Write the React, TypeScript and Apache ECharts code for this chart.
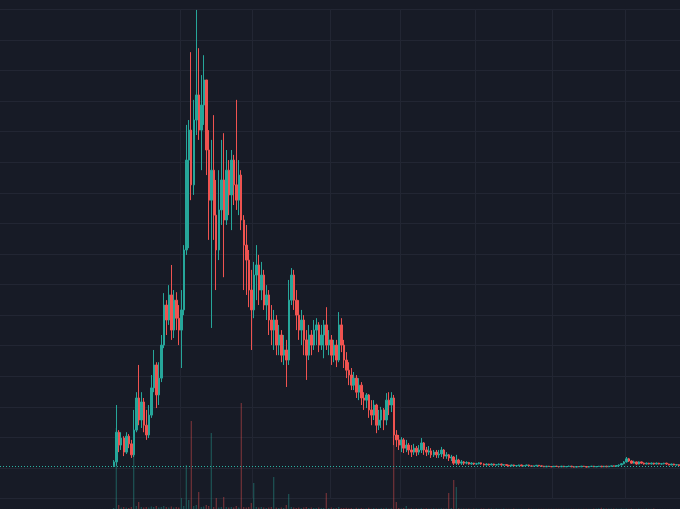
import React, { useEffect, useRef } from "react";
import * as echarts from "echarts";

// Empty categories before the first traded candle
const LEAD = 45;

// Candles: [open, close, low, high]
const OHLC: number[][] = [
  [1.07, 1.2, 1.03, 1.26], [1.2, 2.17, 1.07, 3.06], [2.17, 1.75, 1.52, 2.24], [1.75, 1.98, 1.59, 2.17],
  [1.98, 1.52, 1.39, 2.04], [1.52, 2.04, 1.46, 2.17], [2.04, 1.79, 1.65, 2.11], [1.79, 1.43, 1.33, 1.92],
  [1.43, 2.24, 1.36, 2.9], [2.24, 3.29, 2.17, 3.48], [3.29, 2.57, 2.4, 4.37], [2.57, 3.16, 2.31, 3.48],
  [3.16, 2.4, 2.17, 3.29], [2.4, 2.08, 1.92, 2.9], [2.08, 2.73, 1.98, 3.06], [2.73, 3.62, 2.64, 4.04],
  [3.62, 4.37, 3.48, 4.86], [4.37, 3.39, 2.96, 4.46], [3.39, 3.94, 3.06, 4.46], [3.94, 5.02, 3.81, 5.35],
  [5.02, 6.33, 4.92, 6.72], [6.33, 5.84, 5.35, 6.49], [5.84, 6.66, 5.68, 6.98], [6.66, 5.51, 5.19, 7.64],
  [5.51, 6.49, 5.25, 6.82], [6.49, 5.9, 5.51, 6.75], [5.9, 5.51, 5.02, 6.33], [5.51, 6.17, 4.27, 6.82],
  [6.17, 8.13, 6.0, 8.29], [8.13, 11.07, 7.97, 12.22], [11.07, 12.05, 8.19, 12.38], [12.05, 10.26, 9.76, 14.6],
  [10.26, 12.38, 9.93, 13.04], [12.38, 13.2, 11.89, 15.98], [13.2, 12.05, 11.73, 14.73], [12.05, 12.87, 10.74, 13.85],
  [12.87, 13.69, 12.22, 14.5], [13.69, 11.4, 10.58, 13.69], [11.4, 9.76, 8.46, 12.05], [9.76, 10.74, 5.58, 11.73],
  [10.74, 9.27, 8.46, 12.54], [9.27, 8.13, 6.82, 10.42], [8.13, 9.44, 7.8, 10.74], [9.44, 10.42, 8.95, 11.73],
  [10.42, 9.11, 7.24, 11.95], [9.11, 10.74, 8.95, 11.4], [10.74, 9.93, 9.27, 11.07], [9.93, 11.07, 8.78, 11.4],
  [11.07, 10.26, 9.6, 11.24], [10.26, 9.76, 9.44, 13.04], [9.76, 10.58, 9.27, 11.07], [10.58, 9.11, 8.78, 10.74],
  [9.11, 8.29, 6.82, 9.27], [8.29, 7.8, 6.66, 8.95], [7.8, 6.82, 6.26, 8.13], [6.82, 6.17, 4.86, 7.48],
  [6.17, 7.31, 5.9, 7.74], [7.31, 7.64, 6.49, 8.29], [7.64, 6.82, 6.33, 7.97], [6.82, 7.31, 6.49, 7.74],
  [7.31, 6.33, 6.17, 7.48], [6.33, 6.66, 5.84, 6.98], [6.66, 5.84, 5.35, 6.82], [5.84, 5.51, 5.02, 6.33],
  [5.51, 5.84, 4.86, 6.17], [5.84, 5.02, 4.69, 6.0], [5.02, 5.35, 4.69, 5.68], [5.35, 4.69, 4.46, 5.51],
  [4.69, 4.86, 4.37, 5.35], [4.86, 4.53, 3.65, 5.19], [4.53, 6.49, 4.37, 7.15], [6.49, 7.31, 6.33, 7.54],
  [7.31, 6.49, 6.17, 7.48], [6.49, 6.0, 5.51, 6.82], [6.0, 5.51, 5.19, 6.49], [5.51, 5.84, 5.02, 6.17],
  [5.84, 5.19, 4.69, 6.0], [5.19, 4.69, 3.88, 5.51], [4.69, 5.35, 4.53, 5.68], [5.35, 5.02, 4.69, 5.51],
  [5.02, 5.51, 4.86, 5.84], [5.51, 5.68, 5.02, 5.9], [5.68, 5.02, 4.79, 5.77], [5.02, 5.35, 4.86, 5.68],
  [5.35, 5.68, 4.59, 5.84], [5.68, 5.02, 4.86, 6.26], [5.02, 5.19, 4.69, 5.51], [5.19, 4.69, 4.37, 5.35],
  [4.69, 5.02, 4.46, 5.19], [5.02, 4.53, 4.3, 5.19], [4.53, 5.68, 4.46, 6.1], [5.68, 5.02, 4.79, 5.9],
  [5.02, 4.53, 4.27, 5.19], [4.53, 4.2, 3.94, 4.79], [4.2, 4.04, 3.71, 4.46], [4.04, 3.71, 3.55, 4.27],
  [3.71, 3.94, 3.55, 4.14], [3.94, 3.48, 3.29, 4.04], [3.48, 3.71, 3.22, 3.94], [3.71, 3.29, 3.06, 3.81],
  [3.29, 3.22, 2.9, 3.48], [3.22, 3.39, 2.96, 3.45], [3.39, 2.9, 2.64, 3.42], [2.9, 2.73, 2.4, 3.22],
  [2.73, 3.06, 2.57, 3.22], [3.06, 2.4, 2.14, 3.1], [2.4, 2.57, 2.24, 2.9], [2.57, 2.9, 2.31, 3.0],
  [2.9, 2.57, 2.24, 2.96], [2.57, 3.22, 2.4, 3.45], [3.22, 3.06, 2.73, 3.48], [3.06, 3.29, 2.83, 3.48],
  [3.29, 2.08, 1.75, 3.39], [2.08, 1.92, 1.69, 2.24], [1.92, 1.75, 1.59, 2.08], [1.75, 1.92, 1.52, 2.01],
  [1.92, 1.65, 1.49, 1.98], [1.65, 1.75, 1.52, 1.92], [1.75, 1.59, 1.43, 1.82], [1.59, 1.52, 1.36, 1.75],
  [1.52, 1.65, 1.43, 1.79], [1.65, 1.52, 1.39, 1.72], [1.52, 1.59, 1.43, 1.75], [1.59, 1.82, 1.49, 1.98],
  [1.82, 1.59, 1.43, 1.85], [1.59, 1.52, 1.39, 1.69], [1.52, 1.56, 1.43, 1.72], [1.56, 1.43, 1.33, 1.65],
  [1.43, 1.52, 1.36, 1.59], [1.52, 1.43, 1.33, 1.59], [1.43, 1.46, 1.33, 1.59], [1.46, 1.59, 1.36, 1.69],
  [1.59, 1.39, 1.3, 1.62], [1.39, 1.43, 1.3, 1.52], [1.43, 1.33, 1.23, 1.46], [1.33, 1.36, 1.23, 1.43],
  [1.36, 1.16, 1.1, 1.39], [1.16, 1.26, 1.1, 1.43], [1.26, 1.16, 1.1, 1.3], [1.16, 1.2, 1.1, 1.26],
  [1.2, 1.16, 1.1, 1.23], [1.16, 1.18, 1.12, 1.22], [1.18, 1.13, 1.11, 1.2], [1.13, 1.16, 1.11, 1.19],
  [1.16, 1.13, 1.1, 1.17], [1.13, 1.14, 1.1, 1.17], [1.14, 1.17, 1.12, 1.19], [1.17, 1.13, 1.11, 1.18],
  [1.13, 1.1, 1.08, 1.15], [1.1, 1.13, 1.09, 1.15], [1.13, 1.1, 1.08, 1.14], [1.1, 1.13, 1.09, 1.15],
  [1.13, 1.1, 1.08, 1.14], [1.1, 1.11, 1.08, 1.13], [1.11, 1.13, 1.09, 1.15], [1.13, 1.1, 1.08, 1.14],
  [1.1, 1.11, 1.08, 1.12], [1.11, 1.09, 1.07, 1.12], [1.09, 1.07, 1.05, 1.1], [1.07, 1.1, 1.06, 1.11],
  [1.1, 1.07, 1.05, 1.11], [1.07, 1.08, 1.05, 1.09], [1.08, 1.1, 1.06, 1.11], [1.1, 1.07, 1.06, 1.11],
  [1.07, 1.08, 1.05, 1.09], [1.08, 1.1, 1.07, 1.11], [1.1, 1.07, 1.06, 1.11], [1.07, 1.06, 1.05, 1.08],
  [1.06, 1.07, 1.05, 1.08], [1.07, 1.09, 1.06, 1.1], [1.09, 1.07, 1.05, 1.1], [1.07, 1.06, 1.04, 1.08],
  [1.06, 1.04, 1.03, 1.07], [1.04, 1.06, 1.03, 1.07], [1.06, 1.05, 1.04, 1.07], [1.05, 1.04, 1.03, 1.06],
  [1.04, 1.06, 1.03, 1.07], [1.06, 1.05, 1.04, 1.07], [1.05, 1.04, 1.02, 1.06], [1.04, 1.06, 1.03, 1.07],
  [1.06, 1.04, 1.03, 1.07], [1.04, 1.05, 1.03, 1.06], [1.05, 1.06, 1.04, 1.08], [1.06, 1.04, 1.03, 1.07],
  [1.04, 1.03, 1.02, 1.05], [1.03, 1.05, 1.02, 1.06], [1.05, 1.04, 1.03, 1.06], [1.04, 1.06, 1.03, 1.07],
  [1.06, 1.05, 1.04, 1.07], [1.05, 1.03, 1.02, 1.06], [1.03, 1.05, 1.02, 1.06], [1.05, 1.06, 1.04, 1.07],
  [1.06, 1.04, 1.03, 1.07], [1.04, 1.05, 1.03, 1.06], [1.05, 1.06, 1.04, 1.07], [1.06, 1.04, 1.03, 1.07],
  [1.04, 1.06, 1.03, 1.07], [1.06, 1.04, 1.03, 1.07], [1.04, 1.06, 1.03, 1.07], [1.06, 1.07, 1.05, 1.08],
  [1.07, 1.06, 1.05, 1.08], [1.06, 1.08, 1.05, 1.09], [1.08, 1.1, 1.07, 1.12], [1.1, 1.14, 1.09, 1.16],
  [1.14, 1.2, 1.12, 1.23], [1.2, 1.3, 1.18, 1.36], [1.3, 1.23, 1.2, 1.33], [1.23, 1.16, 1.14, 1.25],
  [1.16, 1.2, 1.15, 1.24], [1.2, 1.13, 1.11, 1.21], [1.13, 1.2, 1.12, 1.22], [1.2, 1.16, 1.14, 1.21],
  [1.16, 1.13, 1.11, 1.18], [1.13, 1.16, 1.12, 1.18], [1.16, 1.13, 1.12, 1.17], [1.13, 1.16, 1.12, 1.18],
  [1.16, 1.13, 1.11, 1.17], [1.13, 1.16, 1.12, 1.18], [1.16, 1.13, 1.12, 1.17], [1.13, 1.14, 1.11, 1.16],
  [1.14, 1.16, 1.12, 1.17], [1.16, 1.13, 1.11, 1.17], [1.13, 1.1, 1.09, 1.14], [1.1, 1.13, 1.09, 1.14],
  [1.13, 1.1, 1.09, 1.14], [1.1, 1.11, 1.08, 1.12], [1.11, 1.08, 1.06, 1.12],
];

// Volume per candle
const VOLUME: number[] = [
  10, 810, 40, 15, 20, 15, 10, 20, 540, 30, 70, 20, 15, 20, 15, 25, 20, 30, 15, 20,
  30, 20, 15, 25, 15, 20, 15, 110, 30, 440, 90, 880, 30, 40, 170, 20, 25, 40, 30, 760,
  20, 110, 15, 20, 120, 20, 15, 20, 15, 30, 15, 1060, 20, 15, 20, 60, 260, 20, 15, 20,
  15, 10, 15, 20, 320, 15, 10, 15, 10, 40, 150, 20, 15, 10, 15, 10, 15, 20, 10, 15,
  10, 10, 15, 10, 10, 160, 10, 15, 10, 10, 20, 10, 10, 12, 8, 10, 6, 12, 8, 10,
  6, 8, 12, 6, 10, 8, 6, 10, 8, 12, 6, 8, 790, 70, 10, 8, 10, 30, 6, 8,
  5, 8, 6, 10, 5, 8, 6, 5, 8, 6, 5, 8, 6, 5, 160, 10, 290, 220, 8, 6,
  5, 4, 6, 3, 5, 4, 3, 5, 4, 3, 4, 5, 3, 4, 3, 2, 4, 3, 2, 3,
  4, 2, 3, 2, 3, 2, 4, 3, 2, 3, 2, 3, 2, 2, 3, 2, 3, 2, 2, 3,
  2, 3, 2, 2, 3, 2, 3, 2, 2, 3, 2, 3, 4, 5, 8, 12, 8, 6, 5, 4,
  5, 4, 3, 4, 3, 4, 3, 4, 3, 3, 4, 3, 3, 4, 3, 3, 4,
];

const LAST_PRICE = 1.05;
// Category indices where the time-scale grid lines fall
const TIME_LINES = [72, 101, 132, 160, 190, 221, 250];
const CATEGORIES: string[] = Array.from({ length: LEAD + OHLC.length }, (_, i) => `D${i + 1}`);

const UP = "#26a69a";
const DOWN = "#ef5350";
const BG = "#171b26";
const GRID = "#222633";

export default function App() {
  const ref = useRef<HTMLDivElement>(null);
  useEffect(() => {
    if (!ref.current) return;
    const chart = echarts.init(ref.current, null, { renderer: "svg" });
    const pad = Array.from({ length: LEAD }, () => ["-", "-", "-", "-"]);
    const candles = [...pad, ...OHLC.map((d) => [d[0], d[1], Math.min(d[2], d[0], d[1]), Math.max(d[3], d[0], d[1])])];
    const vols = [
      ...Array.from({ length: LEAD }, () => "-"),
      ...VOLUME.map((v, i) => ({
        value: v,
        itemStyle: { color: OHLC[i][1] >= OHLC[i][0] ? "rgba(38,166,154,0.5)" : "rgba(239,83,80,0.5)" },
      })),
    ];
    const lineSet = new Set(TIME_LINES);
    chart.setOption({
      animation: false,
      backgroundColor: BG,
      grid: [
        { left: 0, right: 0, top: 9.33, bottom: 10.4 },
        { left: 0, right: 0, bottom: 0, height: 130 },
      ],
      xAxis: [
        {
          type: "category",
          data: CATEGORIES,
          gridIndex: 0,
          boundaryGap: true,
          axisLine: { show: false },
          axisTick: { show: false },
          axisLabel: { show: false },
          splitLine: {
            show: true,
            interval: (index: number) => lineSet.has(index),
            lineStyle: { color: GRID, width: 1 },
          },
        },
        {
          type: "category",
          data: CATEGORIES,
          gridIndex: 1,
          show: false,
        },
      ],
      yAxis: [
        {
          type: "value",
          gridIndex: 0,
          min: 0,
          max: 16,
          interval: 1,
          axisLine: { show: false },
          axisTick: { show: false },
          axisLabel: { show: false },
          splitLine: { show: true, lineStyle: { color: GRID, width: 1 } },
        },
        {
          type: "value",
          gridIndex: 1,
          min: 0,
          max: 1300,
          show: false,
          splitLine: { show: false },
        },
      ],
      series: [
        {
          type: "bar",
          xAxisIndex: 1,
          yAxisIndex: 1,
          data: vols,
          barWidth: 1,
          z: 1,
        },
        {
          type: "candlestick",
          xAxisIndex: 0,
          yAxisIndex: 0,
          data: candles,
          barWidth: 2,
          z: 2,
          itemStyle: {
            color: UP,
            color0: DOWN,
            borderColor: UP,
            borderColor0: DOWN,
            borderWidth: 1,
          },
          markLine: {
            silent: true,
            symbol: ["none", "none"],
            label: { show: false },
            lineStyle: { color: "#2bb3a3", type: [1, 2], width: 1, opacity: 1 },
            emphasis: { disabled: true },
            data: [{ yAxis: LAST_PRICE }],
          },
        },
      ],
    });
    return () => chart.dispose();
  }, []);
  return (
    <div
      ref={ref}
      style={{ position: "fixed", left: 0, top: 0, width: 680, height: 509, background: BG }}
    />
  );
}
